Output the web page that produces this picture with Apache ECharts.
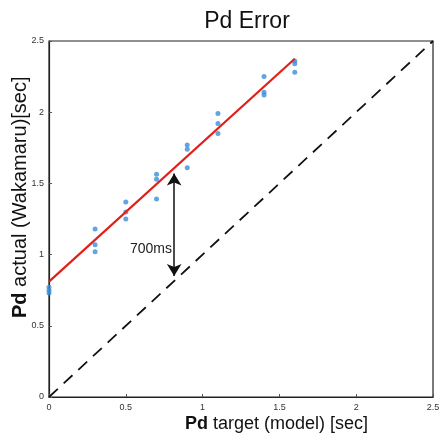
<!DOCTYPE html>
<html lang="en">
<head>
    <meta charset="UTF-8">
    <title>Pd Error</title>
    <script src="https://cdn.jsdelivr.net/npm/echarts@6/dist/echarts.min.js"></script>
    <style type="text/css">
        html, body { margin: 0; padding: 0; background: #fff; }
        #chart { width: 443px; height: 437px; }
    </style>
</head>
<body>
<div id="chart"></div>
<script type="text/javascript">
    // measured points (target, actual)
    var targetX = [0, 0, 0, 0.3, 0.3, 0.3, 0.5, 0.5, 0.5, 0.7, 0.7, 0.7,
                   0.9, 0.9, 0.9, 1.1, 1.1, 1.1, 1.4, 1.4, 1.4, 1.6, 1.6, 1.6];
    var actualY = [0.77, 0.75, 0.73, 1.18, 1.07, 1.02, 1.37, 1.30, 1.25, 1.565, 1.53, 1.39,
                   1.77, 1.74, 1.61, 1.99, 1.92, 1.85, 2.25, 2.14, 2.12, 2.36, 2.34, 2.28];
    // regression line and ideal line
    var fitX = [0, 1.6];
    var fitY = [0.81, 2.375];
    var idealX = [0, 2.5];
    var idealY = [0, 2.5];
    // offset arrow
    var arrowX = 0.815;
    var arrowY = [0.85, 1.57];
    var ticks = [0, 0.5, 1, 1.5, 2, 2.5];

    var pts = [];
    for (var i = 0; i < targetX.length; i++) pts.push([targetX[i], actualY[i]]);
    var fit = fitX.map(function (x, i) { return [x, fitY[i]]; });
    var ideal = idealX.map(function (x, i) { return [x, idealY[i]]; });

    var chart = echarts.init(document.getElementById('chart'));
    var axisCommon = {
        min: ticks[0],
        max: ticks[ticks.length - 1],
        interval: 0.5,
        axisLine: { show: true, lineStyle: { color: '#222', width: 1.2 } },
        axisTick: { show: true, inside: true, length: 3, lineStyle: { color: '#555' } },
        splitLine: { show: false },
        axisLabel: { color: '#333', fontSize: 9, fontFamily: 'Liberation Sans' }
    };
    chart.setOption({
        animation: false,
        title: {
            text: 'Pd Error',
            left: 242, top: 5, textAlign: 'center',
            textStyle: { fontSize: 23, fontWeight: 'normal', color: '#111', fontFamily: 'Liberation Sans' }
        },
        grid: {
            left: 49, right: 10, top: 41, bottom: 40,
            show: true, borderColor: '#222', borderWidth: 1.2
        },
        xAxis: Object.assign({ type: 'value' }, axisCommon, {
            axisLabel: Object.assign({}, axisCommon.axisLabel, { margin: 6 })
        }),
        yAxis: Object.assign({ type: 'value' }, axisCommon, {
            axisLabel: Object.assign({}, axisCommon.axisLabel, { margin: 5 })
        }),
        graphic: [
            {
                type: 'text', x: 185, y: 415,
                style: {
                    text: '{p|Pd} target (model) [sec]',
                    rich: {
                        p: { fontSize: 18, fontWeight: 'bold', fontFamily: 'Liberation Sans', fill: '#111' }
                    },
                    fontSize: 18, fontFamily: 'Liberation Sans', fill: '#111'
                }
            },
            {
                type: 'text', x: 10, y: 318, rotation: Math.PI / 2,
                style: {
                    text: '{p|Pd} actual (Wakamaru)[sec]',
                    rich: {
                        p: { fontSize: 20, fontWeight: 'bold', fontFamily: 'Liberation Sans', fill: '#111' }
                    },
                    fontSize: 20, fontFamily: 'Liberation Sans', fill: '#111'
                }
            },
            {
                type: 'text', left: 130, top: 242,
                style: { text: '700ms', fontSize: 14, fontFamily: 'Liberation Sans', fill: '#222' }
            }
        ],
        series: [
            {
                type: 'line', data: ideal, symbol: 'none', silent: true,
                lineStyle: { color: '#111', width: 1.8, type: [12, 8] }
            },
            {
                type: 'line', data: fit, symbol: 'none', silent: true,
                lineStyle: { color: '#e02018', width: 2.2 }
            },
            {
                type: 'scatter', data: pts, symbolSize: 5,
                itemStyle: { color: '#3b8fd8' }
            },
            {
                type: 'line', data: [], silent: true,
                markLine: {
                    silent: true,
                    symbol: ['arrow', 'arrow'],
                    symbolSize: [11, 12],
                    label: { show: false },
                    lineStyle: { color: '#111', width: 1.5, type: 'solid' },
                    data: [[{ coord: [arrowX, arrowY[0]] }, { coord: [arrowX, arrowY[1]] }]]
                }
            }
        ]
    });
</script>
</body>
</html>
